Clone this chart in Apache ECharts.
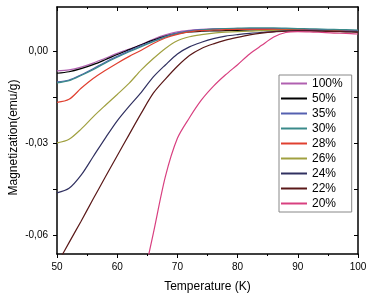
<!DOCTYPE html>
<html>
<head>
<meta charset="utf-8">
<script src="https://cdn.jsdelivr.net/npm/echarts@6/dist/echarts.min.js"></script>
<style>
    html, body { margin: 0; padding: 0; background: #fff; }
    #chart { width: 373px; height: 306px; }
</style>
</head>
<body>
<div id="chart"></div>
<script>
let temperatures = [50, 52, 54, 56, 58, 60, 62, 64, 66, 68, 70, 72, 74, 76, 78, 80, 82, 84, 86, 88, 90, 92, 94, 96, 98, 100];

let labels = ['100%', '50%', '35%', '30%', '28%', '26%', '24%', '22%', '20%'];
let colors = ['#b060b0', '#000000', '#5560b0', '#3a8a8a', '#e04030', '#a0a040', '#303060', '#5a1818', '#d84080'];

let m100 = [-0.0065, -0.0062, -0.0053, -0.0040, -0.0024, -0.0008, 0.0006, 0.0021, 0.0038, 0.0052, 0.0062, 0.0067, 0.0070, 0.0072, 0.0073, 0.0073, 0.0073, 0.0073, 0.0072, 0.0071, 0.0070, 0.0069, 0.0068, 0.0067, 0.0066, 0.0065];
let m50 = [-0.0073, -0.0068, -0.0058, -0.0045, -0.0029, -0.0012, 0.0004, 0.0020, 0.0035, 0.0048, 0.0057, 0.0062, 0.0064, 0.0065, 0.0066, 0.0067, 0.0068, 0.0069, 0.0069, 0.0069, 0.0068, 0.0067, 0.0066, 0.0065, 0.0064, 0.0063];
let m35 = [-0.0101, -0.0095, -0.0078, -0.0058, -0.0037, -0.0018, 0.0000, 0.0017, 0.0032, 0.0047, 0.0058, 0.0065, 0.0069, 0.0071, 0.0072, 0.0073, 0.0073, 0.0073, 0.0073, 0.0072, 0.0071, 0.0070, 0.0069, 0.0068, 0.0067, 0.0066];
let m30 = [-0.0104, -0.0097, -0.0080, -0.0061, -0.0040, -0.0021, -0.0003, 0.0014, 0.0030, 0.0045, 0.0056, 0.0063, 0.0068, 0.0071, 0.0073, 0.0074, 0.0075, 0.0075, 0.0075, 0.0074, 0.0073, 0.0072, 0.0071, 0.0070, 0.0069, 0.0068];
let m28 = [-0.0168, -0.0158, -0.0122, -0.0090, -0.0064, -0.0040, -0.0018, 0.0002, 0.0024, 0.0042, 0.0054, 0.0062, 0.0066, 0.0068, 0.0069, 0.0070, 0.0070, 0.0070, 0.0070, 0.0069, 0.0068, 0.0067, 0.0066, 0.0065, 0.0064, 0.0063];
let m26 = [-0.0300, -0.0288, -0.0255, -0.0215, -0.0178, -0.0142, -0.0105, -0.0062, -0.0025, 0.0008, 0.0033, 0.0046, 0.0053, 0.0058, 0.0061, 0.0063, 0.0064, 0.0066, 0.0067, 0.0067, 0.0067, 0.0066, 0.0065, 0.0064, 0.0063, 0.0062];
let m24 = [-0.0463, -0.0448, -0.0405, -0.0345, -0.0285, -0.0228, -0.0180, -0.0135, -0.0085, -0.0046, -0.0010, 0.0013, 0.0028, 0.0040, 0.0048, 0.0053, 0.0057, 0.0060, 0.0063, 0.0065, 0.0066, 0.0066, 0.0065, 0.0064, 0.0063, 0.0062];
let m22 = [-0.0695, -0.0625, -0.0555, -0.0483, -0.0412, -0.0342, -0.0272, -0.0203, -0.0138, -0.0092, -0.0050, -0.0015, 0.0008, 0.0023, 0.0035, 0.0044, 0.0052, 0.0058, 0.0062, 0.0064, 0.0065, 0.0065, 0.0064, 0.0063, 0.0062, 0.0061];
let m20 = [null, null, null, null, null, null, null, -0.0775, -0.0595, -0.0410, -0.0285, -0.0218, -0.0160, -0.0115, -0.0078, -0.0045, -0.0010, 0.0018, 0.0045, 0.0060, 0.0063, 0.0062, 0.0060, 0.0058, 0.0057, 0.0055];

let values = [m100, m50, m35, m30, m28, m26, m24, m22, m20];

let yTicks = [-0.06, -0.045, -0.03, -0.015, 0];
let yLabels = [-0.06, -0.03, 0];

let font = 'Liberation Sans, Arial, sans-serif';

let pairs = function (arr) {
    let out = [];
    for (let i = 0; i < temperatures.length; i++) {
        if (arr[i] !== null) {
            out.push([temperatures[i], arr[i]]);
        }
    }
    return out;
};

let comma = function (v) {
    return v.toFixed(2).replace('.', ',');
};

let container = echarts.init(document.getElementById('chart'));

let series = labels.map(function (name, i) {
    return {
        name: name,
        type: 'line',
        data: pairs(values[i]),
        showSymbol: false,
        smooth: 0.3,
        clip: true,
        color: colors[i],
        lineStyle: {width: 1.2, color: colors[i]}
    };
});

let axisLine = {show: true, onZero: false, lineStyle: {color: '#000', width: 1.5}};

let option = {
    animation: false,
    backgroundColor: '#fff',
    grid: {left: 57, right: 15, top: 7, bottom: 52, outerBoundsMode: 'none'},
    legend: {
        orient: 'vertical',
        left: 279,
        top: 75,
        data: labels,
        icon: 'rect',
        itemWidth: 26,
        itemHeight: 2,
        itemGap: 0,
        padding: [1, 9, 1, 2],
        borderColor: '#888',
        borderWidth: 1,
        backgroundColor: '#fff',
        textStyle: {fontFamily: font, fontSize: 12, color: '#000', lineHeight: 15}
    },
    xAxis: [
        {
            type: 'value',
            min: 50,
            max: 100,
            interval: 10,
            name: 'Temperature (K)',
            nameLocation: 'middle',
            nameGap: 27,
            nameMoveOverlap: false,
            nameTextStyle: {fontFamily: font, fontSize: 12, color: '#000'},
            axisLine: axisLine,
            axisTick: {show: true, inside: false, length: 4, lineStyle: {color: '#000'}},
            minorTick: {show: true, splitNumber: 2, length: 2, lineStyle: {color: '#000'}},
            axisLabel: {fontFamily: font, fontSize: 10, color: '#000', margin: 8},
            splitLine: {show: false}
        },
        {
            type: 'value',
            position: 'top',
            min: 50,
            max: 100,
            interval: 10,
            axisLine: axisLine,
            axisTick: {show: true, inside: true, length: 4, lineStyle: {color: '#000'}},
            minorTick: {show: true, splitNumber: 2, length: 2, lineStyle: {color: '#000'}},
            axisLabel: {show: false},
            splitLine: {show: false}
        }
    ],
    yAxis: [
        {
            type: 'value',
            min: -0.0662,
            max: 0.0143,
            name: 'Magnetization(emu/g)',
            nameLocation: 'middle',
            nameGap: 37,
            nameMoveOverlap: false,
            nameTextStyle: {fontFamily: font, fontSize: 12, color: '#000', padding: [0, 14, 0, 0]},
            axisLine: axisLine,
            axisTick: {show: true, inside: false, length: 4, customValues: yTicks, lineStyle: {color: '#000'}},
            axisLabel: {
                fontFamily: font, fontSize: 10, color: '#000', margin: 9,
                customValues: yLabels,
                formatter: comma
            },
            splitLine: {show: false}
        },
        {
            type: 'value',
            position: 'right',
            min: -0.0662,
            max: 0.0143,
            axisLine: axisLine,
            axisTick: {show: true, inside: true, length: 4, customValues: yTicks, lineStyle: {color: '#000'}},
            axisLabel: {show: false},
            splitLine: {show: false}
        }
    ],
    series: series
};
container.setOption(option, true);
</script>
</body>
</html>
